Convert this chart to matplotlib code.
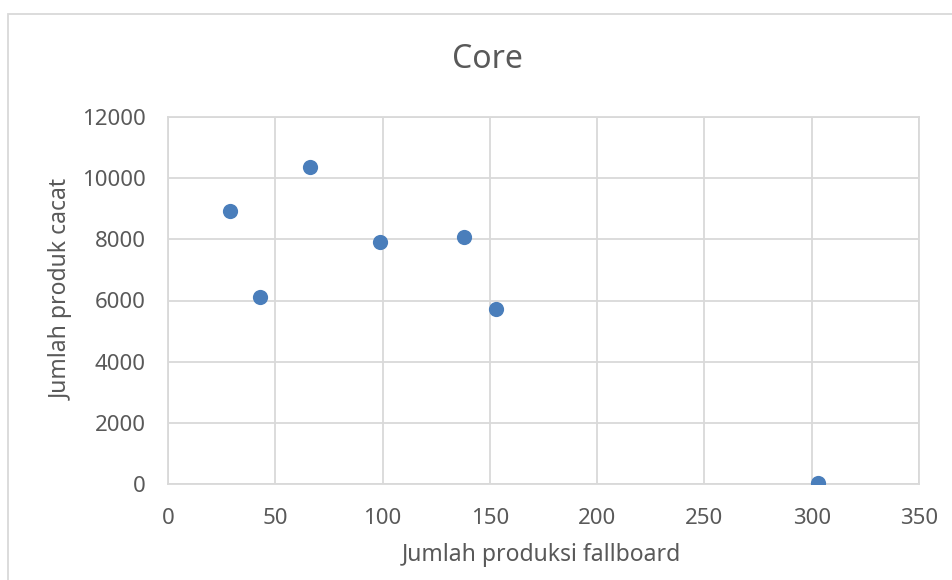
import matplotlib
matplotlib.use("Agg")
import matplotlib.pyplot as plt
from matplotlib.patches import Rectangle

plt.rcParams['font.family'] = ['Noto Sans', 'DejaVu Sans']

# fallboard production vs defective core products
produksi = [29, 43, 66, 99, 138, 153, 303]
cacat = [8920, 6130, 10350, 7900, 8060, 5730, 20]

x_ticks = [0, 50, 100, 150, 200, 250, 300, 350]
y_ticks = [0, 2000, 4000, 6000, 8000, 10000, 12000]

text_col = '#595959'
grid_col = '#d9d9d9'

W, H = 953, 580
fig = plt.figure(figsize=(W / 100, H / 100), dpi=100)
ax = fig.add_axes([168 / W, 1 - 484 / H, (919 - 168) / W, (484 - 117) / H])

# outer chart frame
fig.patches.append(Rectangle((8 / W, -0.1), 1.2, 1 - 14 / H + 0.1,
                             transform=fig.transFigure, fill=False,
                             edgecolor=grid_col, linewidth=1.3))

ax.scatter(produksi, cacat, s=120, color='#4a7ebb', zorder=3, linewidths=0)

ax.set_xlim(0, 350)
ax.set_ylim(0, 12000)
ax.set_xticks(x_ticks)
ax.set_yticks(y_ticks)
ax.grid(True, color=grid_col, linewidth=1.3)
ax.set_axisbelow(True)
for s in ax.spines.values():
    s.set_color(grid_col)
    s.set_linewidth(1.3)
ax.tick_params(length=0, labelsize=16, labelcolor=text_col)
ax.tick_params(axis='x', pad=17)
ax.tick_params(axis='y', pad=16)

fig.text(487 / W, 1 - 68 / H, 'Core', fontsize=23, color=text_col,
         ha='center', va='baseline')
fig.text(541 / W, 1 - 555 / H, 'Jumlah produksi fallboard', fontsize=16.5,
         color=text_col, ha='center', va='center')
fig.text(62 / W, 1 - 289 / H, 'Jumlah produk cacat', fontsize=16.5,
         color=text_col, ha='center', va='center', rotation=90)

fig.savefig('out.png', dpi=100)
